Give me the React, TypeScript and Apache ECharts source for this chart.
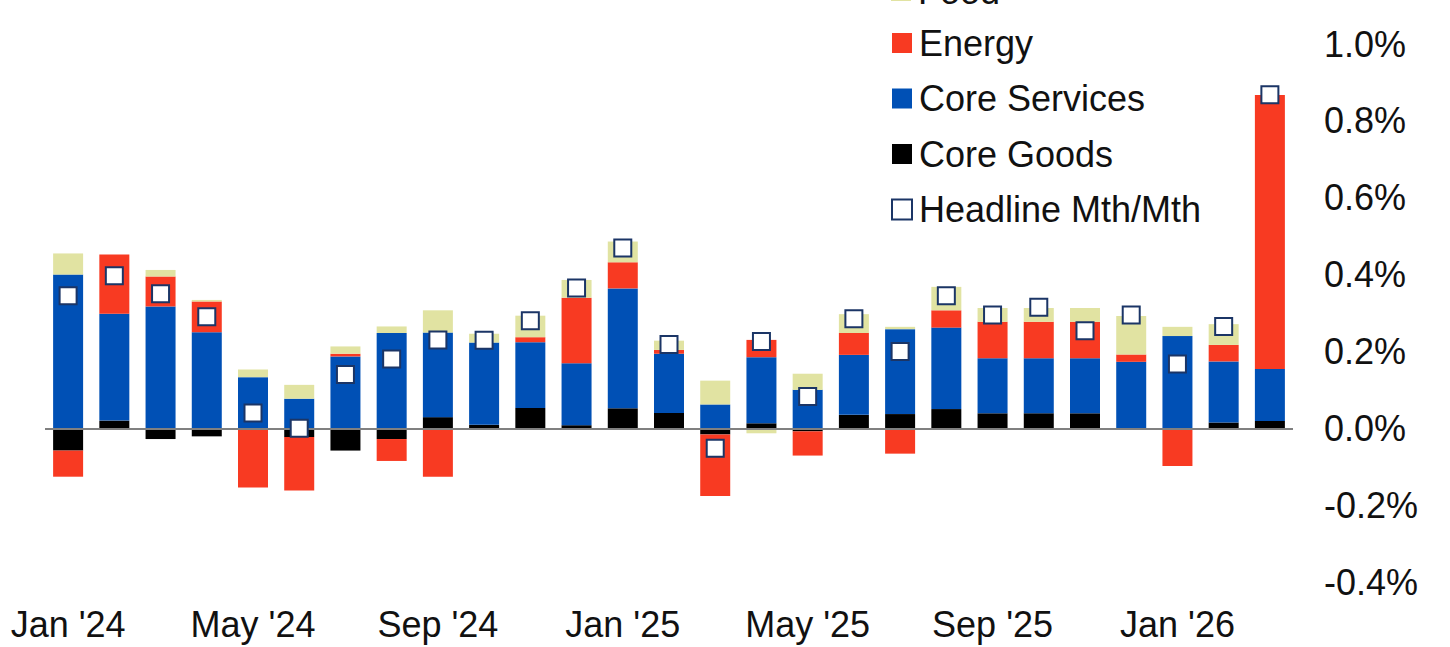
import React, { useEffect, useRef } from "react";
import * as echarts from "echarts";

const months = [
  "Jan '24", "Feb '24", "Mar '24", "Apr '24", "May '24", "Jun '24", "Jul '24", "Aug '24", "Sep '24",
  "Oct '24", "Nov '24", "Dec '24", "Jan '25", "Feb '25", "Mar '25", "Apr '25", "May '25", "Jun '25",
  "Jul '25", "Aug '25", "Sep '25", "Oct '25", "Nov '25", "Dec '25", "Jan '26", "Feb '26", "Mar '26",
];

const coreGoods = [-0.058, 0.02, -0.028, -0.021, -0.004, -0.023, -0.058, -0.028, 0.029, 0.009, 0.053, 0.008, 0.052, 0.04, -0.016, 0.013, -0.008, 0.035, 0.037, 0.05, 0.039, 0.039, 0.039, 0, 0, 0.015, 0.019];
const coreServices = [0.4, 0.278, 0.317, 0.25, 0.133, 0.077, 0.187, 0.248, 0.22, 0.214, 0.171, 0.161, 0.312, 0.154, 0.062, 0.172, 0.1, 0.156, 0.221, 0.212, 0.143, 0.143, 0.143, 0.173, 0.24, 0.159, 0.135];
const energy = [-0.068, 0.154, 0.078, 0.08, -0.15, -0.139, 0.007, -0.057, -0.126, 0, 0.013, 0.171, 0.068, 0.01, -0.16, 0.045, -0.063, 0.057, -0.066, 0.045, 0.095, 0.095, 0.095, 0.019, -0.098, 0.043, 0.713];
const food = [0.055, 0, 0.017, 0.004, 0.02, 0.036, 0.019, 0.017, 0.058, 0.023, 0.056, 0.046, 0.054, 0.024, 0.062, -0.013, 0.042, 0.049, 0.006, 0.061, 0.036, 0.036, 0.036, 0.1, 0.024, 0.054, 0];
const headline = [0.345, 0.397, 0.35, 0.29, 0.04, 0.0, 0.14, 0.18, 0.23, 0.229, 0.28, 0.365, 0.469, 0.218, -0.052, 0.226, 0.083, 0.285, 0.2, 0.345, 0.295, 0.315, 0.254, 0.295, 0.167, 0.265, 0.868];

const COLORS = {
  food: "#e1e3a2",
  energy: "#f83a22",
  services: "#0050b5",
  goods: "#000000",
  marker: "#1b3566",
};

const FONT = "'Liberation Sans', Arial, sans-serif";
const TEXT = "#111111";

export default function App() {
  const ref = useRef<HTMLDivElement>(null);

  useEffect(() => {
    if (!ref.current) return;
    const chart = echarts.init(ref.current, undefined, { renderer: "svg" });
    const barBase = {
      type: "bar",
      stack: "total",
      barWidth: 30,
    };
    const legendBase = {
      orient: "vertical",
      left: 886,
      itemWidth: 20,
      itemHeight: 20,
      itemGap: 19.5,
      textStyle: { fontSize: 36, lineHeight: 36, color: TEXT, fontFamily: FONT, padding: [0, 0, 0, 2] },
    };
    chart.setOption({
      animation: false,
      textStyle: { fontFamily: FONT },
      grid: { left: 45, right: 157, top: 44, bottom: 65 },
      legend: [
        {
          ...legendBase,
          top: -32,
          data: [{ name: "Food", icon: "rect" }],
        },
        {
          ...legendBase,
          top: 20,
          data: [
            { name: "Energy", icon: "rect" },
            { name: "Core Services", icon: "rect" },
            { name: "Core Goods", icon: "rect" },
            { name: "Headline Mth/Mth", icon: "rect" },
          ],
        },
      ],
      xAxis: {
        type: "category",
        data: months,
        axisLine: { show: false, onZero: false },
        axisTick: { show: false },
        axisLabel: {
          interval: 3,
          fontSize: 36,
          color: TEXT,
          fontFamily: FONT,
          margin: 24,
        },
      },
      yAxis: {
        type: "value",
        position: "right",
        min: -0.4,
        max: 1.0,
        interval: 0.2,
        axisLine: { show: false },
        axisTick: { show: false },
        splitLine: { show: false },
        axisLabel: {
          fontSize: 36,
          color: TEXT,
          fontFamily: FONT,
          margin: 31,
          formatter: (v: number) => v.toFixed(1) + "%",
        },
      },
      series: [
        {
          ...barBase,
          name: "Core Goods",
          data: coreGoods,
          itemStyle: { color: COLORS.goods },
          markLine: {
            silent: true,
            symbol: "none",
            label: { show: false },
            lineStyle: { color: "#808080", width: 2, type: "solid" },
            data: [{ yAxis: 0 }],
            z: 10,
          },
        },
        { ...barBase, name: "Core Services", data: coreServices, itemStyle: { color: COLORS.services } },
        { ...barBase, name: "Energy", data: energy, itemStyle: { color: COLORS.energy } },
        { ...barBase, name: "Food", data: food, itemStyle: { color: COLORS.food } },
        {
          type: "scatter",
          name: "Headline Mth/Mth",
          data: headline,
          symbol: "rect",
          symbolSize: 17,
          z: 20,
          itemStyle: { color: "#ffffff", borderColor: COLORS.marker, borderWidth: 2, opacity: 1 },
        },
      ],
    });
    return () => chart.dispose();
  }, []);

  return (
    <div
      ref={ref}
      style={{ position: "absolute", left: 0, top: 0, width: 1450, height: 647, background: "#ffffff" }}
    />
  );
}
